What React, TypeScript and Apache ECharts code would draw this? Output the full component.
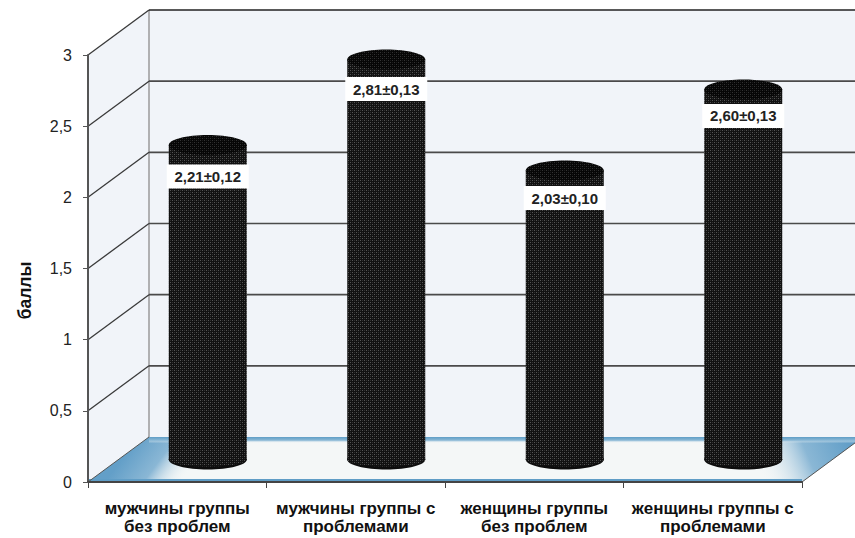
import React, { useEffect, useRef } from "react";
import * as echarts from "echarts";

const categories = [
  "мужчины группы\nбез проблем",
  "мужчины группы с\nпроблемами",
  "женщины группы\nбез проблем",
  "женщины группы с\nпроблемами",
];
const means = [2.21, 2.81, 2.03, 2.6];
const errors = ["0,12", "0,13", "0,10", "0,13"];
const gridValues = [0.5, 1, 1.5, 2, 2.5, 3];

// Pseudo-3D box depth and cylinder proportions, in pixels.
const DEPTH_X = 61;
const DEPTH_Y = 45;
const RADIUS_X = 39;
const RADIUS_Y = 10;
// Vertical shift of each value tag below its cylinder's front top edge.
const TAG_SHIFT = [9, 7, 5, 4];

const FONT = '"Liberation Sans", Arial, sans-serif';

function makeWeave(base: string, hi: string, mid: string): HTMLCanvasElement {
  const c = document.createElement("canvas");
  c.width = 4;
  c.height = 4;
  const ctx = c.getContext("2d")!;
  ctx.fillStyle = base;
  ctx.fillRect(0, 0, 4, 4);
  ctx.fillStyle = hi;
  ctx.fillRect(0, 0, 1, 1);
  ctx.fillRect(2, 2, 1, 1);
  ctx.fillStyle = mid;
  ctx.fillRect(2, 0, 1, 1);
  ctx.fillRect(0, 2, 1, 1);
  return c;
}

export default function App() {
  const ref = useRef<HTMLDivElement>(null);

  useEffect(() => {
    const chart = echarts.init(ref.current!, null, { renderer: "svg" });
    const bodyWeave = { image: makeWeave("#111111", "#555555", "#303030"), repeat: "repeat" };
    const capWeave = { image: makeWeave("#060606", "#333333", "#1a1a1a"), repeat: "repeat" };

    const renderPlanes = (params: any) => {
      const sys = params.coordSys;
      const left = sys.x;
      const right = sys.x + sys.width;
      const top = sys.y;
      const bottom = sys.y + sys.height;
      const backBottom = bottom - DEPTH_Y;
      const BLUE = "#639fc8";
      const PALE = "#f4f7f7";
      const leftFade = new echarts.graphic.LinearGradient(
        left + 50, backBottom, left + 100, bottom - 8,
        [
          { offset: 0, color: BLUE },
          { offset: 0.5, color: "#8ab7d5" },
          { offset: 1, color: "rgba(244,247,247,0)" },
        ],
        true,
      );
      const rightFade = new echarts.graphic.LinearGradient(
        right + 45, backBottom + 4, right - 40, bottom - 4,
        [
          { offset: 0, color: BLUE },
          { offset: 0.45, color: "#8ab7d5" },
          { offset: 1, color: "rgba(244,247,247,0)" },
        ],
        true,
      );
      const backStrip = new echarts.graphic.LinearGradient(
        0, backBottom, 0, backBottom + 6,
        [
          { offset: 0, color: "#5f9dc6" },
          { offset: 0.55, color: "#8ab8d6" },
          { offset: 1, color: "rgba(244,247,247,0)" },
        ],
        true,
      );
      const floorOutline = [
        [left, bottom],
        [left + DEPTH_X, backBottom],
        [right + DEPTH_X, backBottom],
        [right, bottom],
      ];
      return {
        type: "group",
        children: [
          {
            type: "polygon",
            shape: {
              points: [
                [left + DEPTH_X, top - DEPTH_Y],
                [right + DEPTH_X, top - DEPTH_Y],
                [right + DEPTH_X, backBottom],
                [left + DEPTH_X, backBottom],
              ],
            },
            style: { fill: "#f1f4f9" },
          },
          {
            type: "polygon",
            shape: {
              points: [
                [left, top],
                [left + DEPTH_X, top - DEPTH_Y],
                [left + DEPTH_X, backBottom],
                [left, bottom],
              ],
            },
            style: { fill: "#f1f4f9" },
          },
          { type: "polygon", shape: { points: floorOutline }, style: { fill: PALE } },
          { type: "polygon", shape: { points: floorOutline }, style: { fill: leftFade } },
          { type: "polygon", shape: { points: floorOutline }, style: { fill: rightFade } },
          {
            type: "rect",
            shape: { x: left + DEPTH_X, y: backBottom, width: right - left, height: 6 },
            style: { fill: backStrip },
          },
          {
            type: "rect",
            shape: { x: left, y: bottom - 3, width: right - left, height: 3 },
            style: { fill: "#5f9dc6" },
          },
          {
            type: "line",
            shape: { x1: left + DEPTH_X, y1: top - DEPTH_Y, x2: left + DEPTH_X, y2: backBottom },
            style: { stroke: "#9a9a9a", lineWidth: 1.5 },
          },
          {
            type: "line",
            shape: { x1: left, y1: bottom, x2: left + DEPTH_X, y2: backBottom },
            style: { stroke: "#555", lineWidth: 1 },
          },
          {
            type: "line",
            shape: { x1: right, y1: bottom, x2: right + DEPTH_X, y2: backBottom },
            style: { stroke: "#555", lineWidth: 1 },
          },
        ],
      };
    };

    const renderGridline = (params: any, api: any) => {
      const sys = params.coordSys;
      const value = api.value(1);
      const y = api.coord([0, value])[1];
      const left = sys.x;
      const right = sys.x + sys.width;
      return {
        type: "group",
        children: [
          {
            type: "line",
            shape: { x1: left, y1: y, x2: left + DEPTH_X, y2: y - DEPTH_Y },
            style: { stroke: "#3a3a3a", lineWidth: 1.3 },
          },
          {
            type: "line",
            shape: { x1: left + DEPTH_X, y1: y - DEPTH_Y, x2: right + DEPTH_X, y2: y - DEPTH_Y },
            style: { stroke: value === 3 ? "#222222" : "#4a4a4a", lineWidth: 1.6 },
          },
        ],
      };
    };

    const renderCylinder = (params: any, api: any) => {
      const i = params.dataIndex;
      const value = api.value(1);
      const [cx0, yTop0] = api.coord([i, value]);
      const yBase0 = api.coord([i, 0])[1];
      const cx = cx0 + DEPTH_X / 2;
      const yTop = yTop0 - DEPTH_Y / 2;
      const yBase = yBase0 - DEPTH_Y / 2;
      const tagY = yTop0 + TAG_SHIFT[i];
      return {
        type: "group",
        children: [
          {
            type: "ellipse",
            shape: { cx, cy: yBase, rx: RADIUS_X, ry: RADIUS_Y },
            style: { fill: "#0c0c0c" },
          },
          {
            type: "rect",
            shape: { x: cx - RADIUS_X, y: yTop, width: RADIUS_X * 2, height: yBase - yTop },
            style: { fill: bodyWeave },
          },
          {
            type: "ellipse",
            shape: { cx, cy: yBase, rx: RADIUS_X, ry: RADIUS_Y - 3 },
            style: { fill: bodyWeave },
          },
          {
            type: "ellipse",
            shape: { cx, cy: yTop, rx: RADIUS_X, ry: RADIUS_Y },
            style: { fill: capWeave },
          },
          {
            type: "rect",
            shape: { x: cx - 41, y: tagY - 12, width: 82, height: 24 },
            style: { fill: "#ffffff" },
          },
          {
            type: "text",
            style: {
              x: cx,
              y: tagY,
              text: `${value.toFixed(2).replace(".", ",")}±${errors[i]}`,
              align: "center",
              verticalAlign: "middle",
              font: `bold 15px ${FONT}`,
              fill: "#222",
            },
          },
        ],
      };
    };

    chart.setOption({
      animation: false,
      backgroundColor: "#ffffff",
      grid: { left: 88, right: 53, top: 55, bottom: 56, outerBoundsMode: "none" },
      xAxis: {
        type: "category",
        data: categories,
        z: 3,
        boundaryGap: true,
        axisLine: { show: true, lineStyle: { color: "#444", width: 2 } },
        axisTick: { show: true, alignWithLabel: false, length: 6, lineStyle: { color: "#444", width: 1 } },
        axisLabel: {
          interval: 0,
          margin: 17,
          color: "#111",
          fontFamily: FONT,
          fontWeight: "bold",
          fontSize: 17,
          lineHeight: 18,
        },
      },
      yAxis: {
        type: "value",
        min: 0,
        max: 3,
        interval: 0.5,
        z: 3,
        name: "баллы",
        nameLocation: "middle",
        nameGap: 54,
        nameTextStyle: {
          color: "#111",
          fontFamily: FONT,
          fontWeight: "bold",
          fontSize: 17.5,
          padding: [0, 44, 0, 0],
        },
        splitLine: { show: false },
        axisLine: { show: true, lineStyle: { color: "#555", width: 2 } },
        axisTick: { show: true, length: 5, lineStyle: { color: "#555", width: 1 } },
        axisLabel: {
          margin: 16,
          color: "#222",
          fontFamily: FONT,
          fontSize: 16,
          formatter: (v: number) => String(v).replace(".", ","),
        },
      },
      series: [
        {
          type: "custom",
          name: "planes",
          z: 1,
          clip: false,
          silent: true,
          renderItem: renderPlanes,
          data: [[0, 0]],
        },
        {
          type: "custom",
          name: "gridlines",
          z: 2,
          clip: false,
          silent: true,
          renderItem: renderGridline,
          data: gridValues.map((v) => [0, v]),
        },
        {
          type: "custom",
          name: "cylinders",
          z: 5,
          clip: false,
          renderItem: renderCylinder,
          data: means.map((v, i) => [i, v]),
        },
      ],
    });

    return () => chart.dispose();
  }, []);

  return (
    <div
      ref={ref}
      style={{ position: "fixed", left: 0, top: 0, width: 855, height: 538 }}
    />
  );
}
